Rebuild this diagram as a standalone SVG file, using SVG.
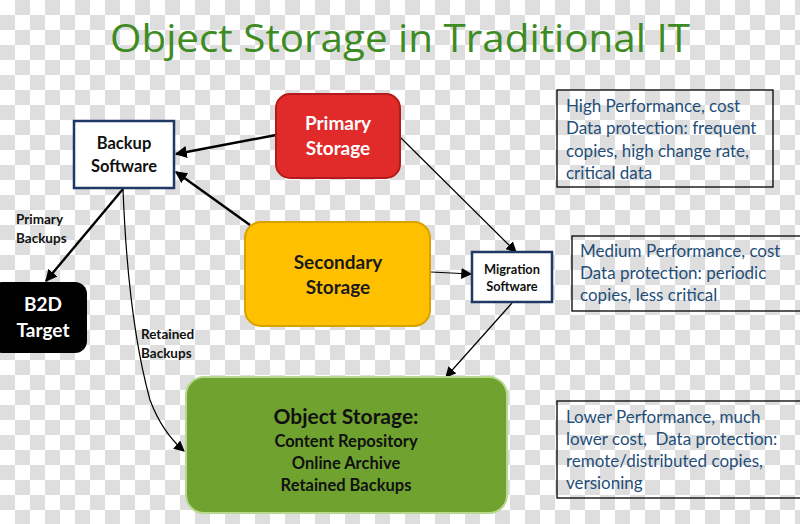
<svg xmlns="http://www.w3.org/2000/svg" width="800" height="524" viewBox="0 0 800 524">
<defs>
<pattern id="checker" width="30" height="30" patternUnits="userSpaceOnUse">
<rect width="30" height="30" fill="#ffffff"/>
<rect x="15" y="0" width="15" height="15" fill="#dedede"/>
<rect x="0" y="15" width="15" height="15" fill="#dedede"/>
</pattern>
<marker id="ah" viewBox="0 0 10 10" refX="9" refY="5" markerWidth="5" markerHeight="5" orient="auto" markerUnits="strokeWidth">
<path d="M0,0 L10,5 L0,10 z" fill="#000"/>
</marker>
<marker id="ahs" viewBox="0 0 10 10" refX="9" refY="5" markerWidth="9" markerHeight="9" orient="auto" markerUnits="strokeWidth">
<path d="M0,0 L10,5 L0,10 z" fill="#000"/>
</marker>
</defs>
<style>
.t{font-family:Lato,"Open Sans","Liberation Sans",sans-serif;font-weight:bold;text-anchor:middle}
.l{font-family:Lato,"Open Sans","Liberation Sans",sans-serif;font-weight:bold;font-size:13.5px;fill:#111}
.info{font-family:Lato,"Open Sans","Liberation Sans",sans-serif;fill:#1f4e79;font-size:17px}
.ibox{fill:none;stroke:#000;stroke-width:1.3}
.thick{stroke:#000;stroke-width:2.4;fill:none}
.thin{stroke:#000;stroke-width:1.2;fill:none}
.sw{fill:#fff;stroke:#1f3864;stroke-width:2.5}
</style>
<rect width="800" height="524" fill="url(#checker)"/>
<text x="400" y="52" font-family="'Open Sans','DejaVu Sans',sans-serif" font-size="39" fill="#3d8b22" text-anchor="middle" textLength="580" lengthAdjust="spacingAndGlyphs">Object Storage in Traditional IT</text>

<g id="connectors">
<line class="thick" x1="276" y1="135" x2="176" y2="154" marker-end="url(#ah)"/>
<line class="thick" x1="250" y1="225" x2="176" y2="172" marker-end="url(#ah)"/>
<line class="thick" x1="123" y1="189" x2="46" y2="281" marker-end="url(#ah)"/>
<path class="thin" d="M123,189 Q128,320 150,400 Q162,432 184,451" marker-end="url(#ahs)"/>
<line class="thin" x1="400" y1="137" x2="516" y2="252" marker-end="url(#ahs)"/>
<line class="thin" x1="431" y1="272" x2="471" y2="274" marker-end="url(#ahs)"/>
<line class="thin" x1="512" y1="303" x2="446" y2="377" marker-end="url(#ahs)"/>
</g>

<g id="primary-storage">
<rect x="276" y="94" width="124" height="84" rx="14" fill="#e12a2a" stroke="#b31a1a" stroke-width="2"/>
<text class="t" x="338" y="130" font-size="19" fill="#fff">Primary</text>
<text class="t" x="338" y="155" font-size="19" fill="#fff">Storage</text>
</g>

<g id="backup-software">
<rect class="sw" x="74" y="121" width="100" height="67"/>
<text class="t" x="124" y="149" font-size="16.5" fill="#111">Backup</text>
<text class="t" x="124" y="172" font-size="16.5" fill="#111">Software</text>
</g>

<g id="secondary-storage">
<rect x="245" y="222" width="185" height="104" rx="16" fill="#ffc000" stroke="#d9a200" stroke-width="2"/>
<text class="t" x="338" y="269" font-size="19" fill="#1a1a1a">Secondary</text>
<text class="t" x="338" y="294" font-size="19" fill="#1a1a1a">Storage</text>
</g>

<g id="migration-software">
<rect class="sw" x="472" y="252" width="80" height="50"/>
<text class="t" x="512" y="274" font-size="12.8" fill="#111">Migration</text>
<text class="t" x="512" y="291" font-size="12.8" fill="#111">Software</text>
</g>

<g id="b2d-target">
<rect x="-10" y="282" width="97" height="71" rx="12" fill="#000"/>
<text class="t" x="43" y="311" font-size="19" fill="#fff">B2D</text>
<text class="t" x="43" y="337" font-size="19" fill="#fff">Target</text>
</g>

<g id="object-storage">
<rect x="186" y="377" width="321" height="136" rx="18" fill="#6fa22f" stroke="#b7d98f" stroke-width="2"/>
<text class="t" x="346" y="424" font-size="21" fill="#111">Object Storage:</text>
<text class="t" x="346" y="447" font-size="16.5" fill="#111">Content Repository</text>
<text class="t" x="346" y="469" font-size="16.5" fill="#111">Online Archive</text>
<text class="t" x="346" y="491" font-size="16.5" fill="#111">Retained Backups</text>
</g>

<g id="label-primary-backups">
<text class="l" x="16" y="224">Primary</text>
<text class="l" x="16" y="243">Backups</text>
</g>
<g id="label-retained-backups">
<text class="l" x="141" y="339">Retained</text>
<text class="l" x="141" y="358">Backups</text>
</g>

<g id="info-primary">
<rect class="ibox" x="557" y="90" width="216" height="97"/>
<text class="info" x="566" y="112">High Performance, cost</text>
<text class="info" x="566" y="134">Data protection: frequent</text>
<text class="info" x="566" y="157">copies, high change rate,</text>
<text class="info" x="566" y="179">critical data</text>
</g>

<g id="info-secondary">
<rect class="ibox" x="572" y="236" width="235" height="75"/>
<text class="info" x="580" y="257">Medium Performance, cost</text>
<text class="info" x="580" y="279">Data protection: periodic</text>
<text class="info" x="580" y="301">copies, less critical</text>
</g>

<g id="info-object">
<rect class="ibox" x="557" y="401" width="250" height="97"/>
<text class="info" x="566" y="423">Lower Performance, much</text>
<text class="info" x="566" y="445" xml:space="preserve">lower cost,  Data protection:</text>
<text class="info" x="566" y="467">remote/distributed copies,</text>
<text class="info" x="566" y="489">versioning</text>
</g>
</svg>
